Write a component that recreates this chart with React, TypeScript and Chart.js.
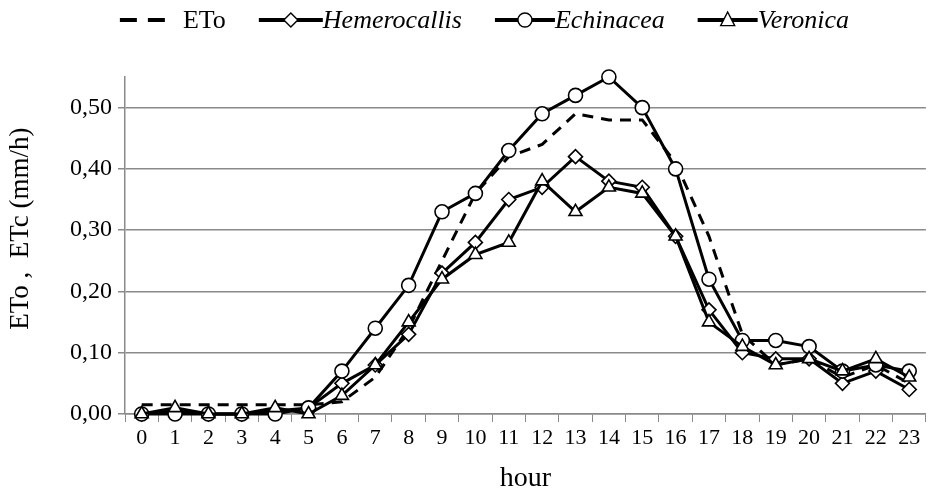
import React, { useEffect, useRef } from "react";
import { Chart, registerables } from "chart.js";

Chart.register(...registerables);

const hours = ["0","1","2","3","4","5","6","7","8","9","10","11","12","13","14","15","16","17","18","19","20","21","22","23"];
const eto = [0.015,0.015,0.015,0.015,0.015,0.015,0.02,0.06,0.14,0.25,0.36,0.42,0.44,0.49,0.48,0.48,0.41,0.29,0.13,0.08,0.09,0.06,0.08,0.05];
const hemerocallis = [0,0.005,0,0,0.005,0.01,0.05,0.08,0.13,0.23,0.28,0.35,0.37,0.42,0.38,0.37,0.29,0.17,0.10,0.09,0.09,0.05,0.07,0.04];
const echinacea = [0,0,0,0,0,0.01,0.07,0.14,0.21,0.33,0.36,0.43,0.49,0.52,0.55,0.50,0.40,0.22,0.12,0.12,0.11,0.07,0.08,0.07];
const veronica = [0,0.01,0,0,0.01,0,0.03,0.08,0.15,0.22,0.26,0.28,0.38,0.33,0.37,0.36,0.29,0.15,0.11,0.08,0.09,0.07,0.09,0.06];
const seriesNames = ["ETo", "Hemerocallis", "Echinacea", "Veronica"];
const seriesItalic = [false, true, true, true];
const yTickValues = [0, 0.1, 0.2, 0.3, 0.4, 0.5];

const FONT = "'Liberation Serif', 'DejaVu Serif', serif";

// legend sample line lengths and gaps (visual layout only)
const legendLine = [45, 64, 60, 60];
const legendTextGap = [18, 0, 0, 0];
const legendItemGap = 33;

const legendPlugin = {
  id: "customLegend",
  afterDraw(chart: any) {
    const ctx = chart.ctx;
    const dsets = chart.data.datasets;
    const fontSize = 26;
    ctx.save();
    const widths: number[] = [];
    dsets.forEach((d: any, i: number) => {
      ctx.font = `${seriesItalic[i] ? "italic " : ""}${fontSize}px ${FONT}`;
      widths.push(legendLine[i] + legendTextGap[i] + ctx.measureText(d.label).width);
    });
    const total = widths.reduce((a, b) => a + b, 0) + legendItemGap * (widths.length - 1);
    let x = chart.width / 2 + 17 - total / 2;
    const y = 20;
    dsets.forEach((d: any, i: number) => {
      const lineLen = legendLine[i];
      ctx.strokeStyle = "#000";
      ctx.lineWidth = 4;
      ctx.lineCap = "butt";
      ctx.setLineDash(d.borderDash ? [17, 11] : []);
      ctx.beginPath();
      ctx.moveTo(x, y);
      ctx.lineTo(x + lineLen, y);
      ctx.stroke();
      ctx.setLineDash([]);
      const cx = x + lineLen / 2;
      const r = 7;
      if (d.pointStyle && d.pointRadius > 0) {
        ctx.fillStyle = "#fff";
        ctx.lineWidth = 1.4;
        ctx.beginPath();
        if (d.pointStyle === "circle") {
          ctx.arc(cx, y, r, 0, Math.PI * 2);
        } else if (d.pointStyle === "rectRot") {
          ctx.moveTo(cx, y - r);
          ctx.lineTo(cx + r, y);
          ctx.lineTo(cx, y + r);
          ctx.lineTo(cx - r, y);
          ctx.closePath();
        } else if (d.pointStyle === "triangle") {
          ctx.moveTo(cx, y - r - 1);
          ctx.lineTo(cx + r, y + r * 0.8);
          ctx.lineTo(cx - r, y + r * 0.8);
          ctx.closePath();
        }
        ctx.fill();
        ctx.stroke();
      }
      ctx.fillStyle = "#000";
      ctx.font = `${seriesItalic[i] ? "italic " : ""}${fontSize}px ${FONT}`;
      ctx.textBaseline = "middle";
      ctx.textAlign = "left";
      ctx.fillText(d.label, x + lineLen + legendTextGap[i], y + 1);
      x += widths[i] + legendItemGap;
    });
    ctx.restore();
  },
};

export default function App() {
  const canvasRef = useRef<HTMLCanvasElement | null>(null);

  useEffect(() => {
    document.body.style.margin = "0";
    const canvas = canvasRef.current;
    if (!canvas) return;
    const common = {
      borderColor: "#000",
      borderWidth: 3,
      pointBackgroundColor: "#fff",
      pointBorderColor: "#000",
      pointBorderWidth: 1.6,
      tension: 0,
      fill: false,
      clip: false as any,
    };
    const chart = new Chart(canvas, {
      type: "line",
      data: {
        labels: hours,
        datasets: [
          { ...common, label: seriesNames[0], data: eto, borderDash: [11, 8], pointRadius: 0, pointStyle: false as any, order: 4 },
          { ...common, label: seriesNames[1], data: hemerocallis, pointStyle: "rectRot", pointRadius: 7, order: 3 },
          { ...common, label: seriesNames[2], data: echinacea, pointStyle: "circle", pointRadius: 7, order: 2 },
          { ...common, label: seriesNames[3], data: veronica, pointStyle: "triangle", pointRadius: 7.5, order: 1 },
        ],
      },
      options: {
        animation: false,
        responsive: false,
        maintainAspectRatio: false,
        layout: { padding: { top: 77, right: 1, left: 0, bottom: 0 } },
        plugins: { legend: { display: false }, tooltip: { enabled: false } },
        scales: {
          x: {
            offset: true,
            grid: {
              display: true,
              drawOnChartArea: false,
              drawTicks: true,
              tickLength: 8,
              color: "#8a8a8a",
              offset: true,
            },
            border: { display: true, color: "#8a8a8a", width: 1.5 },
            ticks: {
              color: "#000",
              font: { family: FONT, size: 22 },
              padding: 3,
              maxRotation: 0,
              autoSkip: false,
            },
            title: {
              display: true,
              text: "hour",
              color: "#000",
              font: { family: FONT, size: 28 },
              padding: { top: 0, bottom: 2 },
            },
            afterFit(scale: any) {
              scale.height = 83;
            },
          },
          y: {
            min: 0,
            max: 0.55,
            ticks: {
              stepSize: 0.1,
              color: "#000",
              font: { family: FONT, size: 24 },
              padding: 6,
              callback: (v: any) => Number(v).toFixed(2).replace(".", ","),
            },
            afterBuildTicks(scale: any) {
              scale.ticks = yTickValues.map((v) => ({ value: v }));
            },
            grid: {
              color: "#8a8a8a",
              lineWidth: 1.5,
              drawTicks: true,
              tickLength: 7,
            },
            border: { display: true, color: "#8a8a8a", width: 1.5 },
            title: {
              display: true,
              text: "     ETo ,  ETc (mm/h)",
              color: "#000",
              font: { family: FONT, size: 27 },
              padding: { top: 5, bottom: 6 },
            },
            afterFit(scale: any) {
              scale.width = 125;
            },
          },
        },
      },
      plugins: [legendPlugin],
    });
    return () => chart.destroy();
  }, []);

  return (
    <div style={{ width: 935, height: 497, background: "#fff" }}>
      <canvas ref={canvasRef} width={935} height={497} style={{ display: "block" }} />
    </div>
  );
}
